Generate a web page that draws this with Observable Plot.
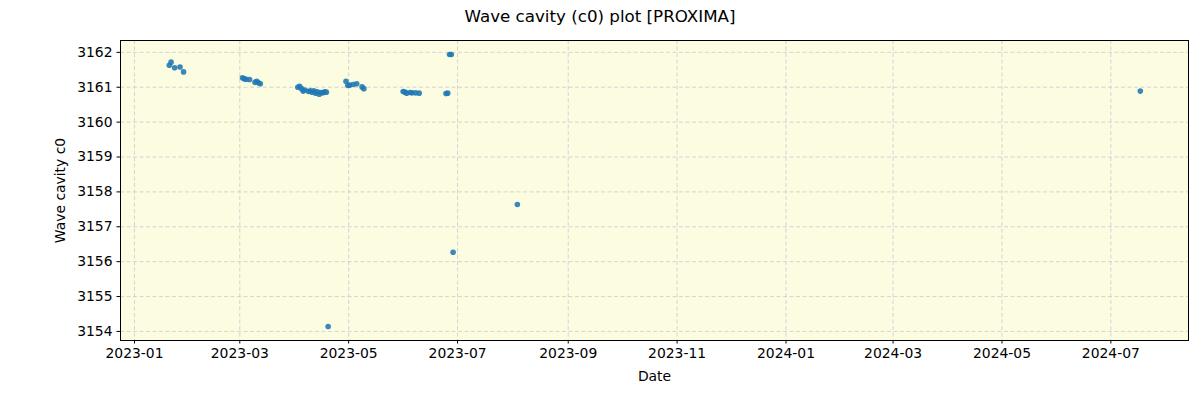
<!DOCTYPE html>
<html>
<head>
<meta charset="utf-8">
<script src="https://cdn.jsdelivr.net/npm/d3@7"></script>
<script src="https://cdn.jsdelivr.net/npm/@observablehq/plot@0.6"></script>
<style>
  body { margin: 0; background: #ffffff; font-family: "DejaVu Sans", sans-serif; }
  #title { width: 1200px; height: 32px; text-align: center; font-size: 16.7px; line-height: 33px; color: #000; }
</style>
</head>
<body>
<div id="title">Wave cavity (c0) plot [PROXIMA]</div>
<div id="chart"></div>
<script>
const dates = [
  "2023-01-20","2023-01-21","2023-01-23","2023-01-26","2023-01-28",
  "2023-03-02","2023-03-03","2023-03-04","2023-03-06","2023-03-09","2023-03-10","2023-03-11","2023-03-12",
  "2023-04-02","2023-04-03","2023-04-04","2023-04-05","2023-04-06","2023-04-08","2023-04-09","2023-04-10",
  "2023-04-11","2023-04-12","2023-04-13","2023-04-14","2023-04-15","2023-04-16","2023-04-17","2023-04-18",
  "2023-04-19",
  "2023-04-29","2023-04-30","2023-05-01","2023-05-03","2023-05-05","2023-05-08","2023-05-09",
  "2023-05-31","2023-06-01","2023-06-02","2023-06-04","2023-06-05","2023-06-07","2023-06-09",
  "2023-06-24","2023-06-25","2023-06-26","2023-06-27","2023-06-28",
  "2023-08-03","2024-07-17"
];
const values = [
  3161.63, 3161.72, 3161.56, 3161.58, 3161.44,
  3161.27, 3161.24, 3161.23, 3161.22, 3161.14, 3161.17, 3161.13, 3161.10,
  3161.00, 3161.03, 3160.96, 3160.89, 3160.92, 3160.88, 3160.90, 3160.86,
  3160.90, 3160.83, 3160.87, 3160.80, 3160.85, 3160.84, 3160.87, 3160.86,
  3154.14,
  3161.17, 3161.05, 3161.06, 3161.08, 3161.10, 3161.01, 3160.96,
  3160.88, 3160.86, 3160.83, 3160.85, 3160.84, 3160.84, 3160.83,
  3160.82, 3160.83, 3161.94, 3161.94, 3156.27,
  3157.64, 3160.89
];
const xTicks = ["2023-01-01","2023-03-01","2023-05-01","2023-07-01","2023-09-01","2023-11-01",
                "2024-01-01","2024-03-01","2024-05-01","2024-07-01"];
const yTicks = [3154, 3155, 3156, 3157, 3158, 3159, 3160, 3161, 3162];

const data = dates.map((d, i) => ({date: new Date(d + "T12:00:00Z"), value: values[i]}));
const xt = xTicks.map(d => new Date(d + "T00:00:00Z"));

const chart = Plot.plot({
  width: 1200,
  height: 368,
  marginTop: 8,
  marginBottom: 60,
  marginLeft: 120,
  marginRight: 12,
  style: {fontFamily: "DejaVu Sans, sans-serif", fontSize: "13.9px", color: "#000", background: "#fff"},
  x: {type: "utc", domain: [new Date("2022-12-24T04:00:00Z"), new Date("2024-08-13T12:00:00Z")]},
  y: {domain: [3153.74, 3162.34]},
  marks: [
    Plot.frame({fill: "#fcfce1", stroke: "none"}),
    Plot.gridX(xt, {stroke: "#cfcfd2", strokeOpacity: 1, strokeDasharray: "4,2.5", strokeWidth: 0.9}),
    Plot.gridY(yTicks, {stroke: "#cfcfd2", strokeOpacity: 1, strokeDasharray: "4,2.5", strokeWidth: 0.9}),
    Plot.dot(data, {x: "date", y: "value", r: 2.8, fill: "#1f77b4", fillOpacity: 0.88, stroke: "none"}),
    Plot.frame({stroke: "#000", strokeWidth: 1}),
    Plot.axisX({ticks: xt, tickFormat: d3.utcFormat("%Y-%m"), tickSize: 3.5, tickPadding: 4,
                label: "Date", labelAnchor: "center", labelArrow: "none", labelOffset: 40, fontSize: 13.9}),
    Plot.axisY({ticks: yTicks, tickFormat: d => String(d), tickSize: 3.5, tickPadding: 4.5,
                label: "Wave cavity c0", labelAnchor: "center", labelArrow: "none", labelOffset: 65, fontSize: 13.9})
  ]
});
document.getElementById("chart").appendChild(chart);
</script>
</body>
</html>
